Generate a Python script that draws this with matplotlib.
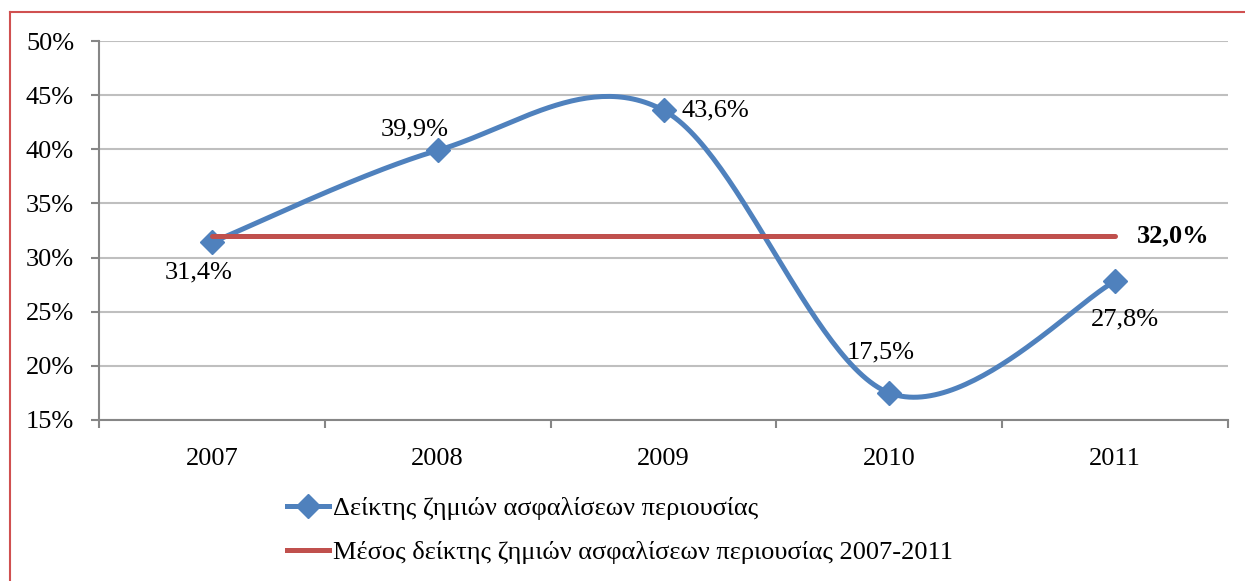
import matplotlib.pyplot as plt
import numpy as np
from matplotlib.lines import Line2D

years = ['2007', '2008', '2009', '2010', '2011']
loss_ratio = [31.4, 39.9, 43.6, 17.5, 27.8]
mean_ratio = 32.0
label_main = 'Δείκτης ζημιών ασφαλίσεων περιουσίας'
label_mean = 'Μέσος δείκτης ζημιών ασφαλίσεων περιουσίας 2007-2011'

plt.rcParams['font.family'] = ['Liberation Serif', 'DejaVu Serif']

blue = '#4F81BD'
red = '#C0504D'
fs = 19


def smooth_curve(x, y, xscale, yscale, n=60):
    # excel-style smoothed line: cubic bezier with catmull-rom tangents
    px = np.asarray(x, float) * xscale
    py = np.asarray(y, float) * yscale
    pts = np.column_stack([px, py])
    ext = np.vstack([pts[0], pts, pts[-1]])
    out = []
    for i in range(len(pts) - 1):
        p0, p1, p2, p3 = ext[i], ext[i + 1], ext[i + 2], ext[i + 3]
        c1 = p1 + (p2 - p0) / 6.0
        c2 = p2 - (p3 - p1) / 6.0
        t = np.linspace(0, 1, n)[:, None]
        seg = ((1 - t) ** 3) * p1 + 3 * ((1 - t) ** 2) * t * c1 + 3 * (1 - t) * t ** 2 * c2 + t ** 3 * p2
        out.append(seg if i == 0 else seg[1:])
    out = np.vstack(out)
    return out[:, 0] / xscale, out[:, 1] / yscale


fig = plt.figure(figsize=(12.45, 5.81), dpi=100)
ax = fig.add_axes([99 / 1245, 1 - 420 / 581, (1228 - 99) / 1245, (420 - 41) / 581])

xpos = np.arange(len(years))
# pixel scales so the smoothing is done in screen space
sx = (1228 - 99) / 5.0
sy = (420 - 41) / 35.0
cx, cy = smooth_curve(xpos, loss_ratio, sx, sy)

ax.plot(cx, cy, color=blue, lw=3.6, solid_capstyle='round', zorder=3)
ax.plot(xpos, loss_ratio, linestyle='none', marker='D', ms=12, color=blue, zorder=3)
ax.plot([xpos[0], xpos[-1]], [mean_ratio, mean_ratio], color=red, lw=3.6,
        solid_capstyle='round', zorder=4)

ax.set_xlim(-0.5, 4.5)
ax.set_ylim(15, 50)
ax.set_yticks(np.arange(15, 51, 5))
ax.set_yticklabels(['%d%%' % v for v in range(15, 51, 5)], fontsize=fs)
ax.set_xticks(xpos)
ax.set_xticklabels(years, fontsize=fs)
ax.set_xticks(np.arange(-0.5, 4.6, 1), minor=True)
ax.tick_params(axis='x', which='major', length=0, pad=20)
ax.tick_params(axis='x', which='minor', length=6, color='#868686', width=1.5)
ax.tick_params(axis='y', length=6, color='#868686', width=1.5, pad=12)
ax.grid(axis='y', color='#BFBFBF', lw=1.5)
ax.set_axisbelow(True)
for s in ['top', 'right']:
    ax.spines[s].set_visible(False)
for s in ['left', 'bottom']:
    ax.spines[s].set_color('#868686')
    ax.spines[s].set_linewidth(1.5)

offsets = [(-13, -30), (-23, 21), (52, 0), (-9, 40), (10, -38)]
for x, v, off in zip(xpos, loss_ratio, offsets):
    ax.annotate(('%.1f%%' % v).replace('.', ','), (x, v), textcoords='offset pixels',
                xytext=off, ha='center', va='center', fontsize=fs)
ax.annotate(('%.1f%%' % mean_ratio).replace('.', ','), (xpos[-1], mean_ratio),
            textcoords='offset pixels', xytext=(58, 0), ha='center', va='center',
            fontsize=fs, fontweight='bold')

handles = [Line2D([], [], color=blue, lw=3.6, marker='D', ms=12),
           Line2D([], [], color=red, lw=3.6)]
fig.legend(handles, [label_main, label_mean], loc='upper left',
           bbox_to_anchor=(287 / 1245, 1 - 497 / 581), frameon=False, fontsize=fs,
           handlelength=1.6, handletextpad=0.15, labelspacing=0.75,
           borderaxespad=0, borderpad=0)

# chart border
fig.add_artist(Line2D([10 / 1245, 10 / 1245], [0, 1 - 12 / 581], color='#D05050', lw=1.5,
                      transform=fig.transFigure))
fig.add_artist(Line2D([10 / 1245, 1], [1 - 12 / 581, 1 - 12 / 581], color='#D05050', lw=1.5,
                      transform=fig.transFigure))

fig.savefig('out.png', dpi=100)
